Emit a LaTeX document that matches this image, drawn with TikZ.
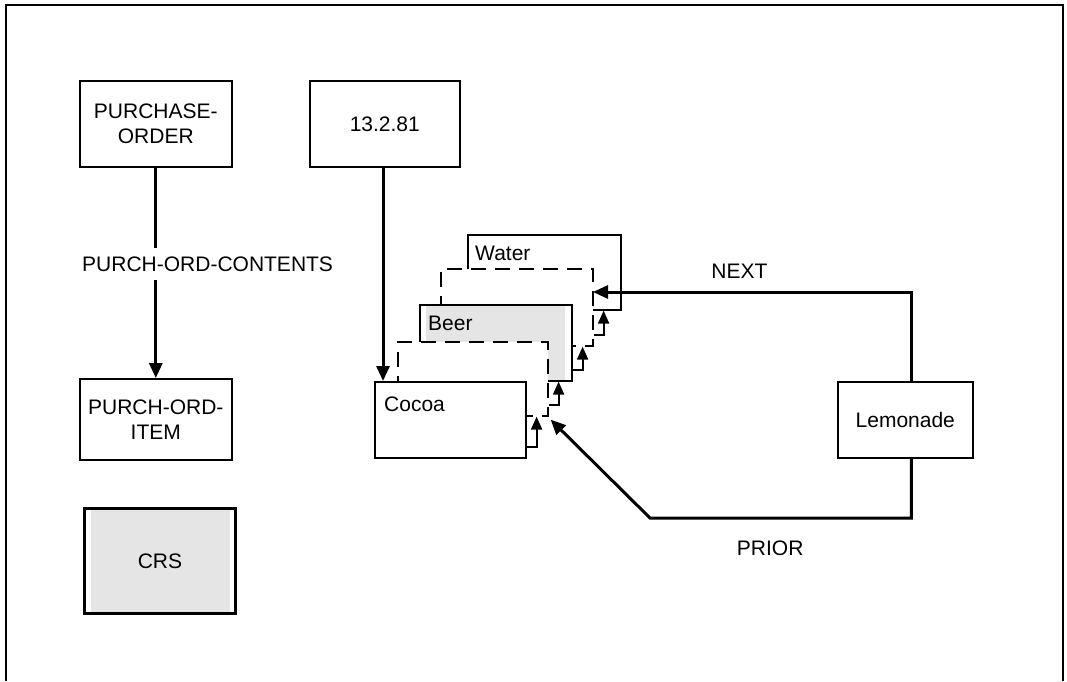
\documentclass[tikz,border=0pt]{standalone}
\usepackage{fontspec}
\setmainfont{Liberation Sans}
\usetikzlibrary{arrows.meta,calc,positioning}
\definecolor{recgrey}{gray}{0.9}
\tikzset{>/.tip={Triangle[length=15pt,width=13pt]}}
\tikzset{s/.tip={Triangle[length=13pt,width=11pt]}}
\tikzset{
  box/.style={draw,line width=1.6pt,fill=white,inner sep=0pt,anchor=north west},
  dbox/.style={box,dash pattern=on 15pt off 9pt},
  rectext/.style={anchor=west,inner sep=0pt},
  link/.style={line width=3pt,->},
  steplink/.style={line width=1.8pt,-s}
}
\begin{document}
\begin{tikzpicture}[x=1pt,y=-1pt,font=\fontsize{21}{25}\selectfont]
        \useasboundingbox (0,0) rectangle (1067,681);
        \draw[line width=1.6pt] (6,681) |- (1063,5) -- (1063,681);
        % left column
        \node(po)[box,minimum width=152,minimum height=86,align=center] at (79,80){PURCHASE-\\ORDER};
        \node(poi)[box,minimum width=152,minimum height=81,align=center] at (79,378){PURCH-ORD-\\ITEM};
        \node(crs)[box,line width=3pt,minimum width=151,minimum height=105,
          path picture={\fill[recgrey] ([shift={(6,-6)}]path picture bounding box.north west)
          rectangle ([shift={(-6,6)}]path picture bounding box.south east);}] at (83,507){CRS};
        \draw[link] (po) -- (poi);
        \node(poc)[rectext,fill=white,inner xsep=3pt,inner ysep=9pt] at (79,264){PURCH-ORD-CONTENTS};
        % the records
        \node(date)[box,minimum width=150,minimum height=86] at (309,80){13.2.81};
        \node(water)[box,minimum width=153,minimum height=75,
          label={[rectext,shift={(8,19)}]north west:Water}] at (467,234){};
        \node(dashb)[dbox,minimum width=152,minimum height=77] at (440,268){};
        \node(beer)[box,minimum width=152,minimum height=76,
          path picture={\fill[recgrey] ([shift={(6,-5)}]path picture bounding box.north west)
          rectangle ([shift={(-7,5)}]path picture bounding box.south east);},
          label={[rectext,shift={(9,19)}]north west:Beer}] at (419,304){};
        \node(dasha)[dbox,minimum width=150,minimum height=74] at (397,341){};
        \node(cocoa)[box,minimum width=151,minimum height=76,
          label={[rectext,shift={(10,23)}]north west:Cocoa}] at (374,381){};
        \node(lemon)[box,minimum width=135,minimum height=76] at (837,381){Lemonade};
        \draw[link] (date.south -| 383,0) -- (cocoa.north -| 383,0);
        \foreach \a/\b in {cocoa/dasha,dasha/beer,beer/dashb,dashb/water}
          \draw[steplink] ($(\a.south east)+(0,-12)$) -- ++(10,0) coordinate(st) -- (st |- \b.south);
        \coordinate(nxt) at (593,292);
        \coordinate(prv) at (650,518);
        \draw[link] ([xshift=6pt]lemon.north) |- (nxt)
          node[pos=0.77,above=9pt]{NEXT};
        \draw[link] ([xshift=6pt]lemon.south) |- (prv)
          node[pos=0.77,below=18pt]{PRIOR} -- ([shift={(2,3)}]dasha.south east);
      \end{tikzpicture}
\end{document}
